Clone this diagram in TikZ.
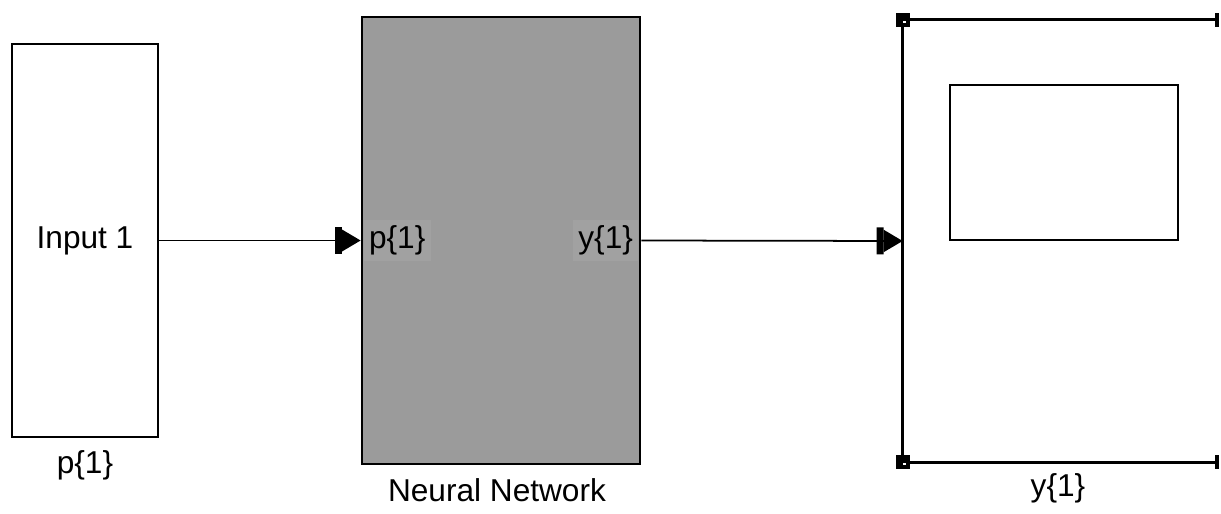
\documentclass[tikz,border=0pt]{standalone}
\usepackage{fontspec}
\setmainfont{Liberation Sans}
\usetikzlibrary{arrows.meta,positioning}
\definecolor{nngray}{RGB}{155,155,155}
\definecolor{portgray}{RGB}{161,161,161}
\begin{document}
\begin{tikzpicture}[x=0.02cm,y=-0.02cm, line join=miter, font=\fontsize{18}{21}\selectfont,
	block/.style={draw,line width=1.6pt,inner sep=0pt},
	sig/.style={line width=1pt,-{Rectangle[length=1.4mm,width=5.4mm]Triangle[length=3.8mm,width=4.4mm]}},
	port/.style={fill=portgray,inner sep=3pt,minimum height=0.8cm},
	scopeline/.style={line width=1.6pt}]
	\useasboundingbox (0,0) rectangle (1221,514);
	% blocks
	\node[block,minimum width=2.92cm,minimum height=7.86cm] (in) at (85,240.5) {Input 1};
	\node[block,fill=nngray,minimum width=5.56cm,minimum height=8.94cm] (nn) at (501,240.5) {};
	\node[port,anchor=west] (pin) at ([xshift=1.6pt]nn.west) {p\{1\}};
	\node[port,anchor=east] (pout) at ([xshift=-1.6pt]nn.east) {y\{1\}};
	\node[minimum width=6.3cm,minimum height=8.84cm,inner sep=0pt] (scope) at (1060.5,241) {};
	% scope
	\draw[scopeline] (scope.north east) -- (scope.north west) -- (scope.south west) -- (scope.south east);
	\draw[line width=1.6pt] (950,85) rectangle (1178,240);
	\foreach \c in {north west,south west}
	{
		\fill ([shift={(-7,-7)}]scope.\c) rectangle ([shift={(7,7)}]scope.\c);
		\fill[white] ([shift={(0.5,1)}]scope.\c) rectangle ([shift={(3.5,3)}]scope.\c);
	}
	\foreach \c in {north east,south east}
		\fill ([shift={(-3,-7)}]scope.\c) rectangle ([shift={(0.5,7)}]scope.\c);
	% signals
	\draw[sig] (in.east) -- (nn.west);
	\draw[sig] (nn.east) -- (scope.west);
	% labels
	\node (lin) at (85,465) {p\{1\}};
	\node (lnn) at (497,490) {Neural Network};
	\node (lsc) at (1058,488) {y\{1\}};
\end{tikzpicture}
\end{document}
